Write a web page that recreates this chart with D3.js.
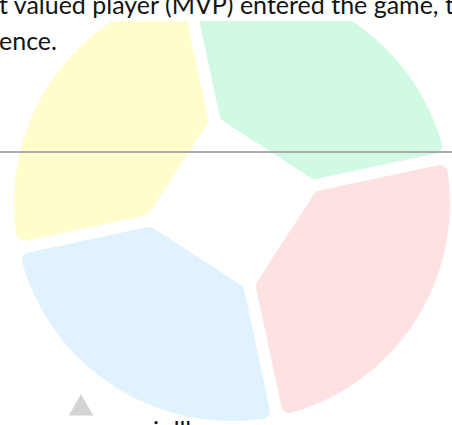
<!DOCTYPE html>
<html>
<head>
<meta charset="utf-8">
<script src="https://cdn.jsdelivr.net/npm/d3@7"></script>
<style>
  html, body { margin: 0; padding: 0; background: #fff; overflow: hidden; }
  svg { display: block; }
</style>
</head>
<body>
<div id="chart"></div>
<script>
// ── Data ──
const SLICE_NAMES  = ['Green', 'Red', 'Blue', 'Yellow'];
const SLICE_VALUES = [25, 25, 25, 25];
const SLICE_COLORS = ['#d1fae5', '#fee2e2', '#e0f2fe', '#fffdcc'];

const TEXT_LINES   = ['t valued player (MVP) entered the game, t', 'ence.'];
const FOOTER_TEXT  = 'i dll';

// ── Layout ──
const W = 452, H = 425;
const CX = 232, CY = 203;
const R_OUT   = 218;   // outer radius
const D_IN    = 64;    // distance of straight inner edge from centre
const GAP     = 6;     // half width of the gap between slices
const CORNER  = 8;     // corner rounding
const START   = -12 * Math.PI / 180;

const svg = d3.select('#chart').append('svg')
  .attr('width', W)
  .attr('height', H);

const color = d3.scaleOrdinal().domain(SLICE_NAMES).range(SLICE_COLORS);

const pie = d3.pie()
  .sort(null)
  .value(d => d.value)
  .startAngle(START)
  .endAngle(START + 2 * Math.PI);

const arcs = pie(SLICE_NAMES.map((name, i) => ({ name, value: SLICE_VALUES[i] })));

// slice shape: outer arc, parallel gaps, straight inner edge, rounded corners
function slicePath(a0, a1) {
  const u = a => [Math.sin(a), -Math.cos(a)];
  const n = a => [Math.cos(a), Math.sin(a)];
  const h = (a1 - a0) / 2, m = a0 + h;
  const tIn  = (D_IN - GAP * Math.sin(h)) / Math.cos(h);
  const tOut = Math.sqrt(R_OUT * R_OUT - GAP * GAP);
  const pt = (a, t, s) => [
    CX + t * u(a)[0] + s * GAP * n(a)[0],
    CY + t * u(a)[1] + s * GAP * n(a)[1]
  ];
  const P1 = pt(a0, tIn, 1), P2 = pt(a0, tOut, 1);
  const P3 = pt(a1, tOut, -1), P4 = pt(a1, tIn, -1);
  const b0 = a0 + Math.asin(GAP / R_OUT), b1 = a1 - Math.asin(GAP / R_OUT);
  const phi = Math.acos(GAP / R_OUT);
  const e = CORNER / Math.tan(phi / 2);
  const M = [CX + D_IN * u(m)[0], CY + D_IN * u(m)[1]];
  const T0 = n(b0);

  const p = d3.path();
  p.moveTo(M[0], M[1]);
  p.arcTo(P1[0], P1[1], P2[0], P2[1], CORNER);
  p.arcTo(P2[0], P2[1], P2[0] + T0[0] * 40, P2[1] + T0[1] * 40, CORNER);
  p.arc(CX, CY, R_OUT, b0 + e / R_OUT - Math.PI / 2, b1 - e / R_OUT - Math.PI / 2);
  p.arcTo(P3[0], P3[1], P4[0], P4[1], CORNER);
  p.arcTo(P4[0], P4[1], M[0], M[1], CORNER);
  p.closePath();
  return p.toString();
}

// ── Pie (clipped under the paragraph) ──
svg.append('clipPath').attr('id', 'pie-clip')
  .append('rect')
  .attr('x', 0).attr('y', 21)
  .attr('width', W).attr('height', H - 21);

svg.append('g')
  .attr('clip-path', 'url(#pie-clip)')
  .selectAll('path').data(arcs).join('path')
  .attr('d', d => slicePath(d.startAngle, d.endAngle))
  .attr('fill', d => color(d.data.name));

// ── Rule across the page ──
svg.append('rect')
  .attr('x', 0).attr('y', 151)
  .attr('width', W).attr('height', 2)
  .attr('fill', '#ababab');

// ── Paragraph text ──
const para = svg.append('g')
  .attr('font-family', 'Lato, "Open Sans", sans-serif')
  .attr('fill', '#141414');

const lines = para.selectAll('text').data(TEXT_LINES).join('text')
  .attr('x', -1)
  .attr('y', (d, i) => 14 + i * 36)
  .attr('font-size', 24)
  .text(d => d);

// fit first line to the visible width
const len = lines.node().getComputedTextLength();
const fs = 24 * 455 / len;
lines.attr('font-size', fs);

// ── Bottom-left marker and cut-off footer text ──
svg.append('path')
  .attr('d', d3.symbol(d3.symbolTriangle, 260)())
  .attr('transform', 'translate(81,408.5)')
  .attr('fill', '#d4d4d4');

para.append('text')
  .attr('x', 153)
  .attr('y', 440)
  .attr('font-size', fs)
  .text(FOOTER_TEXT);
</script>
</body>
</html>
